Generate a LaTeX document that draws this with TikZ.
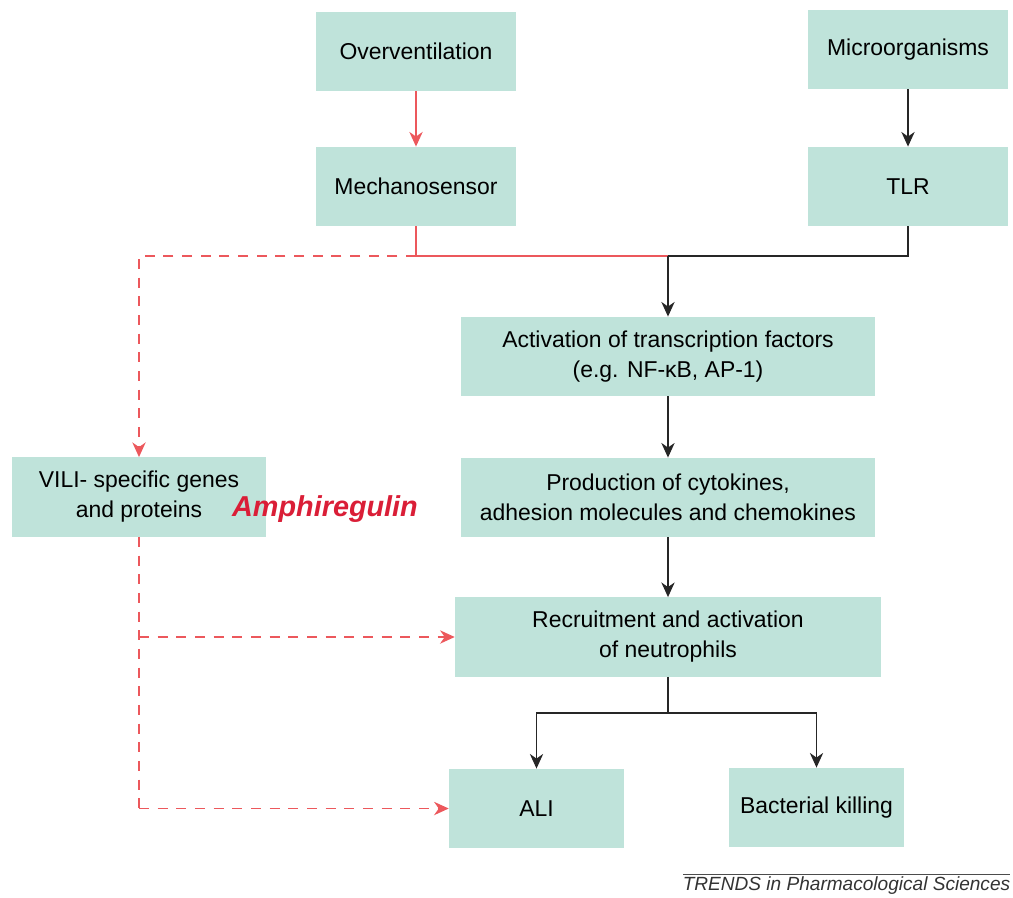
\documentclass[tikz,border=0pt]{standalone}
\usepackage{fontspec}
\setmainfont{Liberation Sans}
\usetikzlibrary{arrows.meta}
\definecolor{boxfill}{RGB}{191,227,218}
\definecolor{linkred}{RGB}{236,88,92}
\definecolor{amphired}{RGB}{218,30,55}

\begin{document}
\begin{tikzpicture}[x=0.75pt,y=0.75pt,yscale=-1,xscale=1,
  box/.style={fill=boxfill,draw=none,inner sep=0pt,align=center,minimum height=59.5pt,font=\fontsize{17.2}{22.5}\selectfont},
  blackline/.style={draw=black!85,line width=0.9pt},
  redline/.style={draw=linkred,line width=1.1pt},
  reddash/.style={redline,dash pattern=on 7.5pt off 6.5pt},
  tip/.style={-{Stealth[length=11pt,width=10pt,inset=3.5pt]}}]
\useasboundingbox (0,0) rectangle (1013,897);

    %Shape: Rectangle [id:over]
    \node [box,minimum width=150pt] (over) at (416,51.5) {Overventilation};
    %Shape: Rectangle [id:micro]
    \node [box,minimum width=150pt] (micro) at (908,49.5) {Microorganisms};
    %Shape: Rectangle [id:mech]
    \node [box,minimum width=150pt] (mech) at (416,186.5) {Mechanosensor};
    %Shape: Rectangle [id:tlr]
    \node [box,minimum width=150pt] (tlr) at (908,186.5) {TLR};
    %Shape: Rectangle [id:act]
    \node [box,minimum width=310.5pt] (act) at (668,356.5) {Activation of transcription factors\\(e.g. NF-κB, AP-1)};
    %Shape: Rectangle [id:prod]
    \node [box,minimum width=310.5pt] (prod) at (668,497.5) {Production of cytokines,\\adhesion molecules and chemokines};
    %Shape: Rectangle [id:recr]
    \node [box,minimum width=319.5pt] (recr) at (668,637) {Recruitment and activation\\of neutrophils};
    %Shape: Rectangle [id:vili]
    \node [box,minimum width=190.5pt] (vili) at (139,497) {VILI- specific genes\\and proteins};
    %Shape: Rectangle [id:ali]
    \node [box,minimum width=131.25pt] (ali) at (536.5,808.5) {ALI};
    %Shape: Rectangle [id:kill]
    \node [box,minimum width=131.25pt] (kill) at (816.5,807.5) {Bacterial killing};

    % Text Node
    \node [inner sep=0.75pt,text=amphired,font=\fontsize{21.6}{24}\selectfont\bfseries\itshape] (amphi) at (325,509) {Amphiregulin};
    % Text Node
    \node [inner sep=0.75pt,font=\fontsize{14.3}{16}\selectfont\itshape,text=black!80] (trends) at (846.5,886) {TRENDS in Pharmacological Sciences};
    %Straight Lines [id:rule]
    \draw [black!70,line width=0.6pt] (683,874) -- (1010,874) ;

    %Junctions
    \coordinate (jtop) at (668,256);
    \coordinate (jleft) at (139,256);
    \coordinate (jbot) at (668,713);

    %Straight Lines [id:over-mech]
    \draw [redline,tip] (over) -- (mech) ;
    %Straight Lines [id:micro-tlr]
    \draw [blackline,tip] (micro) -- (tlr) ;
    %Straight Lines [id:mech-jtop]
    \draw [redline] (mech.south) |- (jtop) ;
    %Straight Lines [id:tlr-jtop]
    \draw [blackline] (tlr.south) |- (jtop) ;
    %Straight Lines [id:jtop-act]
    \draw [blackline,tip] (jtop) -- (act) ;
    %Straight Lines [id:mech-vili]
    \draw [reddash,tip] (mech.south |- jtop) -- (jleft) -- (vili) ;
    %Straight Lines [id:act-prod]
    \draw [blackline,tip] (act) -- (prod) ;
    %Straight Lines [id:prod-recr]
    \draw [blackline,tip] (prod) -- (recr) ;
    %Straight Lines [id:recr-jbot]
    \draw [blackline] (recr.south) -- (jbot) ;
    %Straight Lines [id:jbot-ali]
    \draw [blackline,tip] (jbot) -| (ali) ;
    %Straight Lines [id:jbot-kill]
    \draw [blackline,tip] (jbot) -| (kill) ;
    %Straight Lines [id:vili-down]
    \draw [reddash] (vili.south) -- (vili.south |- ali.west) ;
    %Straight Lines [id:vili-recr]
    \draw [reddash,tip] (vili.south |- recr.west) -- (recr.west) ;
    %Straight Lines [id:vili-ali]
    \draw [reddash,tip] (vili.south |- ali.west) -- (ali.west) ;

\end{tikzpicture}
\end{document}
